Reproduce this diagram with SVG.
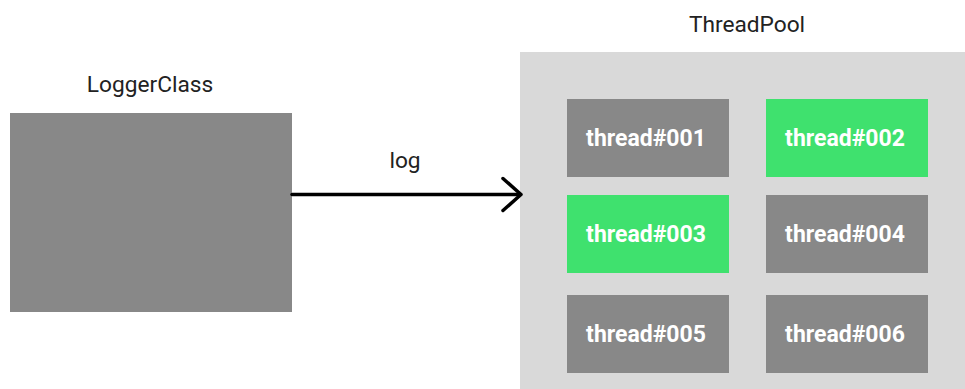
<svg xmlns="http://www.w3.org/2000/svg" width="965" height="389" viewBox="0 0 965 389">
  <style>
    .label { font-family: Roboto, "Liberation Sans", sans-serif; font-size: 22.7px; fill: #222222; text-anchor: middle; }
    .thread-text { font-family: Roboto, "Liberation Sans", sans-serif; font-size: 23px; font-weight: bold; fill: #ffffff; text-anchor: middle; }
    .idle { fill: #888888; }
    .busy { fill: #3fe16e; }
    .pool { fill: #d9d9d9; }
    .edge { stroke: #000000; stroke-width: 3.5; fill: none; stroke-linecap: round; stroke-linejoin: round; }
  </style>
  <rect width="965" height="389" fill="#ffffff"/>

  <g id="logger-class">
    <text class="label" x="150" y="92">LoggerClass</text>
    <rect class="idle" x="10" y="113" width="282" height="199"/>
  </g>

  <g id="thread-pool">
    <text class="label" x="747" y="32">ThreadPool</text>
    <rect class="pool" x="520" y="52" width="445" height="337"/>
  </g>

  <g id="thread-001">
    <rect class="idle" x="567" y="99" width="162" height="78"/>
    <text class="thread-text" x="646" y="146">thread#001</text>
  </g>
  <g id="thread-002">
    <rect class="busy" x="766" y="99" width="162" height="78"/>
    <text class="thread-text" x="845" y="146">thread#002</text>
  </g>
  <g id="thread-003">
    <rect class="busy" x="567" y="195" width="162" height="78"/>
    <text class="thread-text" x="646" y="242">thread#003</text>
  </g>
  <g id="thread-004">
    <rect class="idle" x="766" y="195" width="162" height="78"/>
    <text class="thread-text" x="845" y="242">thread#004</text>
  </g>
  <g id="thread-005">
    <rect class="idle" x="567" y="295" width="162" height="78"/>
    <text class="thread-text" x="646" y="342">thread#005</text>
  </g>
  <g id="thread-006">
    <rect class="idle" x="766" y="295" width="162" height="78"/>
    <text class="thread-text" x="845" y="342">thread#006</text>
  </g>

  <g id="connectors">
    <line class="edge" x1="292" y1="194.5" x2="520" y2="194.5" stroke-linecap="butt"/>
    <polyline class="edge" points="503,178.5 521,194.5 503,210.5"/>
    <text class="label" x="405" y="168">log</text>
  </g>
</svg>
